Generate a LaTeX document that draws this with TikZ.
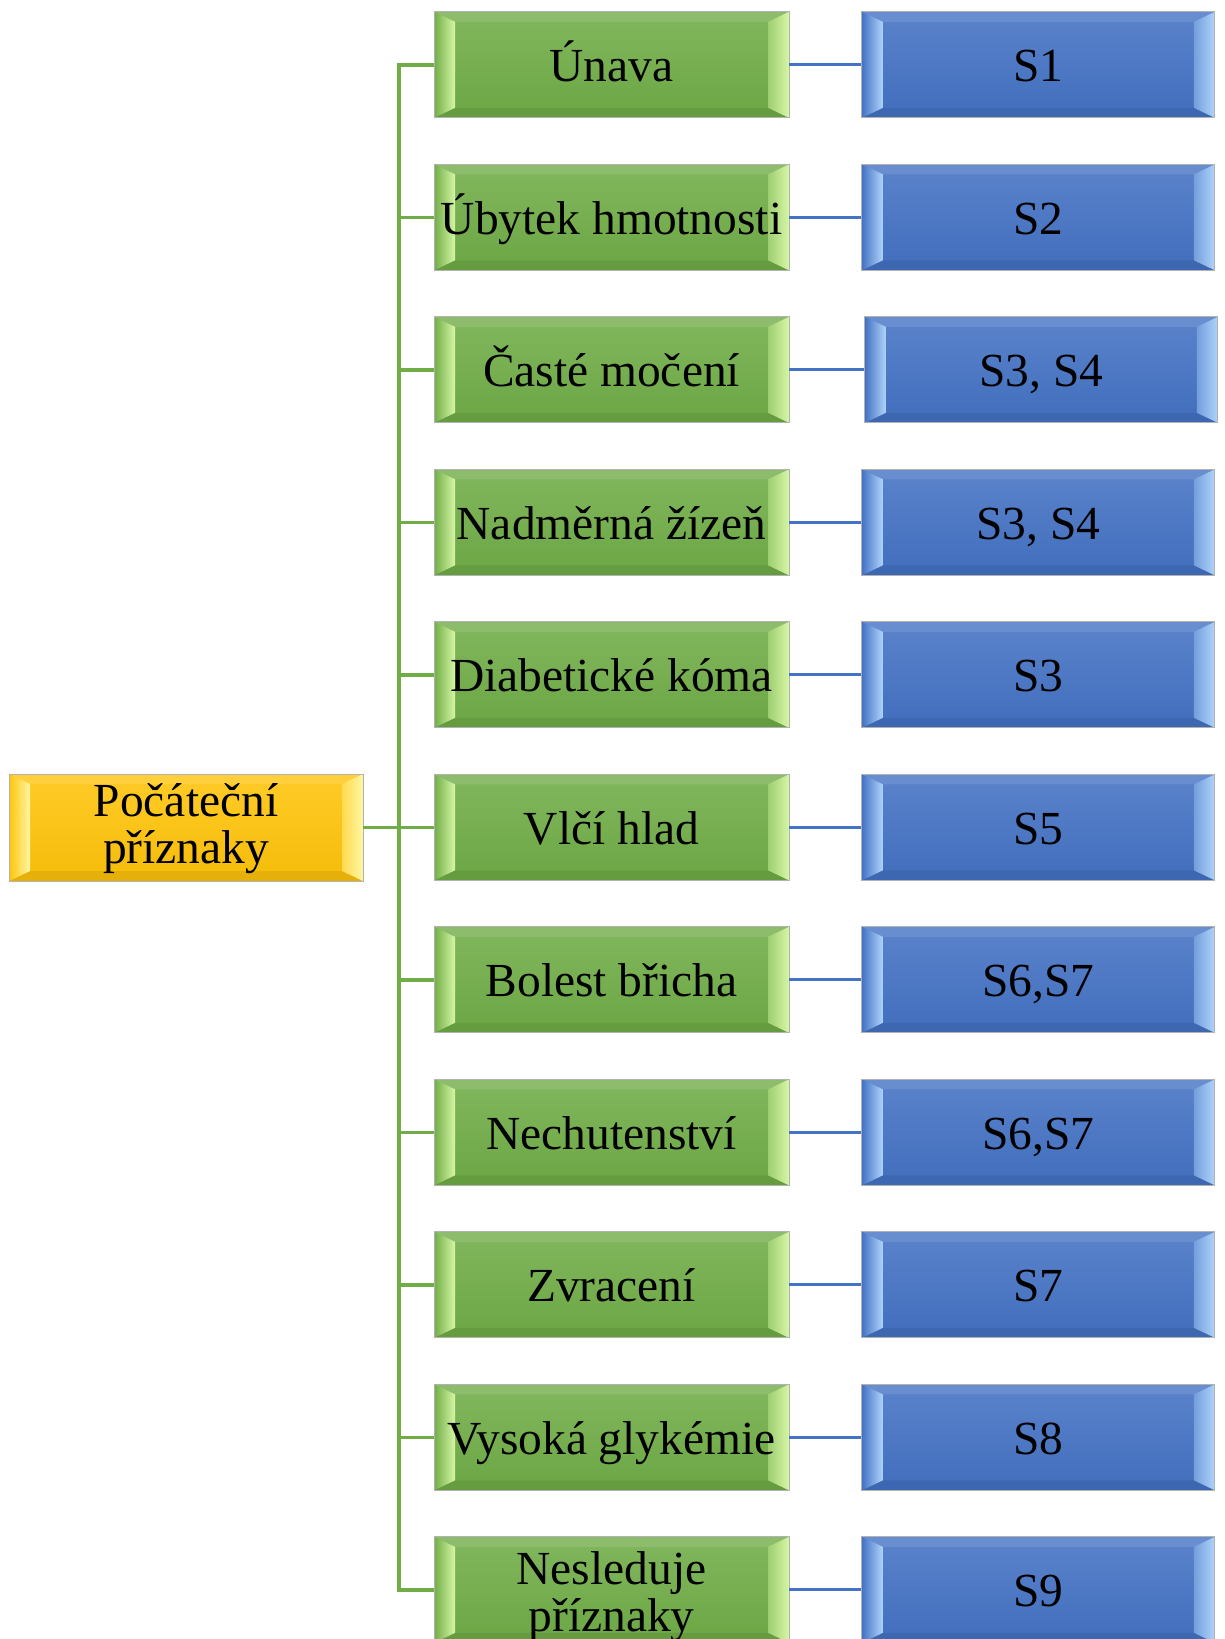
\documentclass[tikz,border=0pt]{standalone}
\usepackage{fontspec}
\setmainfont{Liberation Serif}
\usetikzlibrary{calc,
	positioning}

\definecolor{rootface}{RGB}{255,196,10}
\definecolor{rootlight}{RGB}{255,246,165}
\definecolor{symface}{RGB}{112,173,71}
\definecolor{symlight}{RGB}{215,246,165}
\definecolor{srcface}{RGB}{68,114,196}
\definecolor{srclight}{RGB}{175,212,250}

\tikzset{
	bevelbox/.style 2 args={
		minimum height=2.12cm, align=center,
		draw=black!30, line width=0.5pt,
		top color=#1!88!white, bottom color=#1!96!black,
		path picture={
			\coordinate (pnw) at (path picture bounding box.north west);
			\coordinate (pne) at (path picture bounding box.north east);
			\coordinate (psw) at (path picture bounding box.south west);
			\coordinate (pse) at (path picture bounding box.south east);
			\fill[#1!80!white] (pnw) -- (pne) -- ($(pne)+(-0.42,-0.2)$) -- ($(pnw)+(0.42,-0.2)$) -- cycle;
			\fill[#1!90!black] (psw) -- (pse) -- ($(pse)+(-0.42,0.2)$) -- ($(psw)+(0.42,0.2)$) -- cycle;
			\shade[left color=#1, right color=#2] (pnw) -- (psw) -- ($(psw)+(0.42,0.2)$) -- ($(pnw)+(0.42,-0.2)$) -- cycle;
			\shade[left color=#1!55!#2, right color=#2] ($(pne)+(-0.42,-0.2)$) -- ($(pse)+(-0.42,0.2)$) -- (pse) -- (pne) -- cycle;
		}
	},
	rootbox/.style={bevelbox={rootface}{rootlight}, minimum width=7.08cm, minimum height=2.14cm},
	symbox/.style={bevelbox={symface}{symlight}, minimum width=7.1cm},
	srcbox/.style={bevelbox={srcface}{srclight}, minimum width=7.06cm},
	greenline/.style={draw=symface, line width=2pt},
	blueline/.style={draw=srcface, line width=1.6pt}
}

\begin{document}
\begin{tikzpicture}[every node/.style={font=\fontsize{27}{26.6}\selectfont, inner sep=0pt, text=black}]
	\useasboundingbox (0,0) rectangle (24.5,-32.78);
	% Settings
	\pgfmathsetmacro{\rowstep}{3.05}
	\pgfmathsetmacro{\toprow}{-1.296}
	\pgfmathsetmacro{\symx}{12.23}
	% /Settings
	\node[rootbox, text height=46.85pt, text depth=6.45pt] (root) at (3.72,-16.55) {Počáteční\\příznaky};
	\foreach \sym/\src/\sh/\hgt/\dep [count=\i] in {
		Únava/S1/0/20.25/0.8,
		Úbytek hmotnosti/S2/0/20.25/0.8,
		{Časté močení/S3, S4/0.06/20.25/0.8},
		{Nadměrná žízeň/S3, S4/0/20.25/0.8},
		Diabetické kóma/S3/0/20.25/0.8,
		Vlčí hlad/S5/0/20.25/0.8,
		{Bolest břicha/S6,S7/0/20.25/0.8},
		{Nechutenství/S6,S7/0/20.25/0.8},
		Zvracení/S7/0/20.25/0.8,
		Vysoká glykémie/S8/0/20.25/0.8,
		Nesleduje\\příznaky/S9/0/47.3/0} {
		\pgfmathsetmacro{\y}{\toprow-(\i-1)*\rowstep}
		\pgfmathsetmacro{\gap}{1.44+\sh}
		\node[symbox, text height=\hgt pt, text depth=\dep pt] (sym\i) at (\symx,\y) {\sym};
		\node[srcbox, text height=20.25pt, text depth=0.8pt, right=\gap cm of sym\i] (src\i) {\src};
		\draw[greenline] (root.east) -- ++(0.71,0) |- (sym\i.west);
		\draw[blueline] (sym\i.east) -- (src\i.west);
	}
\end{tikzpicture}
\end{document}
